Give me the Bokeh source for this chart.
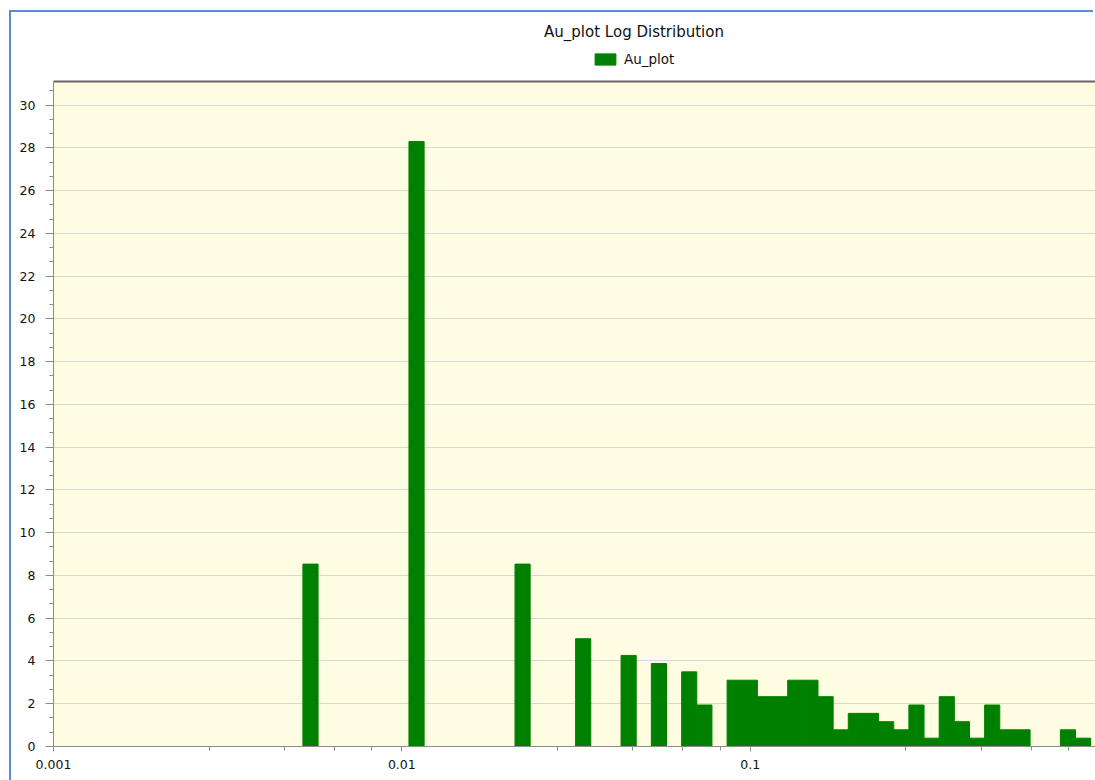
import numpy as np
from bokeh.plotting import figure
from bokeh.layouts import column
from bokeh.models import (ColumnDataSource, FixedTicker, NumeralTickFormatter,
                          Legend, LegendItem, LogAxis, Range1d, Label)
from bokeh.embed import file_html
from bokeh.resources import INLINE

# Au_plot values binned on a log scale: percent of samples per bin
bin_low = 0.0052
bin_high = 0.9493
pct = [
    8.53, 0, 0, 0, 0, 0, 0, 28.29, 0, 0,
    0, 0, 0, 0, 8.53, 0, 0, 0, 5.04, 0,
    0, 4.26, 0, 3.88, 0, 3.49, 1.94, 0, 3.10, 3.10,
    2.33, 2.33, 3.10, 3.10, 2.33, 0.78, 1.55, 1.55, 1.16, 0.78,
    1.94, 0.39, 2.33, 1.16, 0.39, 1.94, 0.78, 0.78, 0, 0,
    0.78, 0.39,
]
series_name = "Au_plot"
chart_title = "Au_plot Log Distribution"

x_ticks = [0.001, 0.01, 0.1]
x_minor_ticks = [0.0028, 0.0046, 0.0064, 0.0082,
                 0.028, 0.046, 0.064, 0.082,
                 0.28, 0.46, 0.64, 0.82]
y_ticks = list(range(0, 31, 2))
y_minor_ticks = [k * 2 / 3 for k in range(0, 47)]

edges = np.logspace(np.log10(bin_low), np.log10(bin_high), len(pct) + 1)
keep = [i for i, v in enumerate(pct) if v > 0]
src = ColumnDataSource(dict(
    left=[edges[i] for i in keep],
    right=[edges[i + 1] for i in keep],
    top=[pct[i] for i in keep],
    bottom=[0] * len(keep),
))

FONT = "DejaVu Sans"
GREEN = "#008000"
TEXT = "#111111"
EDGE = "#5b8bd0"

# ---- header strip: title and legend (frame is aligned with the histogram's) ----
header = figure(width=1084, height=66, x_range=Range1d(-2, -1), y_range=Range1d(-2, -1),
                output_backend="svg", toolbar_location=None, title_location=None,
                x_axis_location=None, y_axis_location=None,
                min_border=0, outline_line_color=None,
                background_fill_color="white", border_fill_color="white")
header.grid.visible = False

# legend swatch renderer (its bars fall outside this strip's ranges)
swatch = header.quad(left="left", right="right", top="top", bottom="bottom",
                     source=src, fill_color=GREEN, line_color=GREEN)
header.add_layout(Label(x=580.5, y=47, x_units="screen", y_units="screen",
                        text=chart_title, text_align="center",
                        text_baseline="middle", text_font=FONT,
                        text_font_size="15px", text_color=TEXT))
header.add_layout(Legend(items=[LegendItem(label=series_name, renderers=[swatch])],
                         location=(539, 11), orientation="horizontal",
                         border_line_color=None, background_fill_alpha=0,
                         padding=0, margin=0, spacing=0,
                         glyph_width=26, glyph_height=14, label_standoff=6,
                         label_height=14, label_text_font=FONT,
                         label_text_font_size="13.5px", label_text_color=TEXT,
                         label_text_baseline="middle"), "center")

# ---- histogram ----
p = figure(width=1084, height=702, x_axis_type="log",
           x_range=Range1d(0.001, 0.980), y_range=Range1d(0, 31.1),
           output_backend="svg", toolbar_location=None, title_location=None,
           min_border_left=42, min_border_right=0,
           min_border_top=3, min_border_bottom=34,
           background_fill_color="#FFFDE1", border_fill_color="white",
           outline_line_color=None)

bars = p.quad(left="left", right="right", top="top", bottom="bottom",
              source=src, fill_color=GREEN, line_color=GREEN, line_width=1)

xa = p.below[0]
xa.ticker = FixedTicker(ticks=x_ticks, minor_ticks=x_minor_ticks)
xa.formatter = NumeralTickFormatter(format="0.[000]")

ya = p.left[0]
ya.ticker = FixedTicker(ticks=y_ticks, minor_ticks=y_minor_ticks)

for ax in (xa, ya):
    ax.axis_line_color = "#8c8c8c"
    ax.major_tick_line_color = "#8c8c8c"
    ax.minor_tick_line_color = "#8c8c8c"
    ax.major_tick_in = 0
    ax.minor_tick_in = 0
    ax.major_label_text_font = FONT
    ax.major_label_text_font_size = "12.5px"
    ax.major_label_text_color = TEXT

xa.major_tick_out = 5
xa.minor_tick_out = 4
xa.major_label_standoff = 8
ya.major_tick_out = 8
ya.minor_tick_out = 4
ya.major_label_standoff = 10

# frame edge along the top
top_axis = LogAxis(ticker=FixedTicker(ticks=[]),
                   major_label_text_font_size="0px", major_label_standoff=0,
                   major_tick_out=0, minor_tick_out=0,
                   axis_line_color="#666666", axis_line_width=2)
p.add_layout(top_axis, "above")

p.xgrid.visible = False
p.ygrid.ticker = FixedTicker(ticks=y_ticks)
p.ygrid.grid_line_color = "#d5d7dc"

# window edge (blue) along the top and left of the two panels
header.styles = {"box-shadow": f"-2px -2px 0 0 {EDGE}, -2px 0 0 0 {EDGE}"}
p.styles = {"box-shadow": f"-2px 0 0 0 {EDGE}"}

layout = column(header, p, spacing=0)
layout.styles = {"margin-top": "12px", "margin-left": "11px"}

open("out.html", "w").write(file_html(layout, INLINE))
